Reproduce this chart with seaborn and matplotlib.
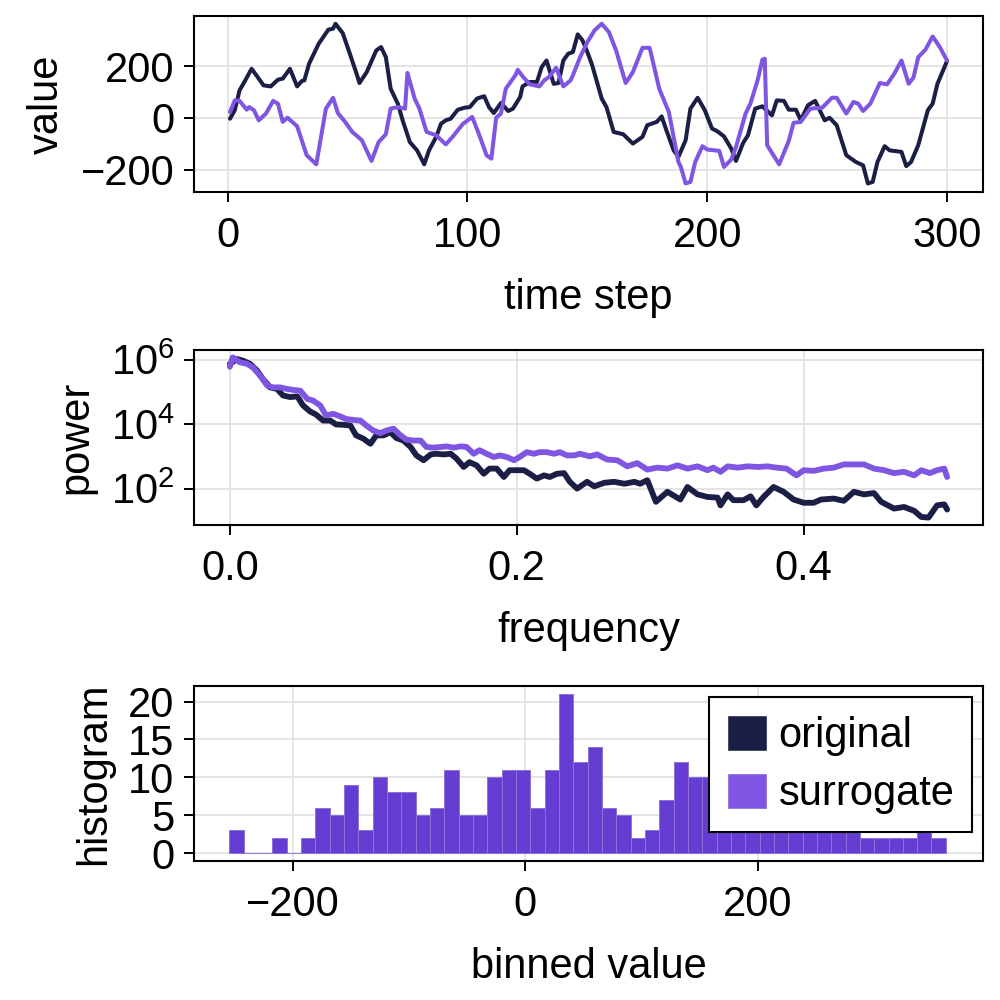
import numpy as np
import pandas as pd
import matplotlib
matplotlib.use('Agg')
import matplotlib.pyplot as plt
import seaborn as sns
from matplotlib.patches import Patch
from matplotlib.ticker import FixedLocator, NullLocator, FuncFormatter

navy = '#1b1f45'
purple = '#7f56e1'
bar_purple = '#7443ec'

# time series
orig_t = [1, 3, 5, 7, 10, 12, 15, 18, 21, 23, 26, 29, 31, 32, 34, 38, 42, 44, 45, 48,
          51, 54, 55, 58, 62, 64, 66, 68, 71, 73, 76, 79, 82, 84, 87, 89, 91, 93, 96, 99,
          101, 104, 107, 109, 111, 114, 117, 119, 122, 123, 126, 129, 131, 133, 136, 138, 140, 142, 144, 146,
          148, 150, 152, 156, 158, 161, 165, 169, 173, 175, 179, 181, 183, 186, 188, 191, 193, 196, 199, 202,
          204, 207, 210, 212, 215, 217, 220, 223, 227, 229, 232, 234, 237, 239, 242, 245, 249, 251, 254, 258,
          262, 265, 267, 269, 271, 274, 276, 281, 283, 285, 288, 292, 294, 296, 300]
orig_v = [-3, 30, 107, 139, 190, 165, 126, 122, 148, 152, 190, 122, 143, 145, 210, 287, 341, 345, 364, 328,
          248, 165, 135, 177, 261, 274, 235, 113, 55, -9, -93, -125, -179, -125, -73, -22, -9, -3, 32, 40,
          42, 75, 84, 42, 19, 58, 27, 36, 81, 122, 139, 139, 197, 222, 132, 135, 222, 248, 255, 323,
          300, 255, 205, 75, 42, -54, -63, -99, -73, -28, -15, 6, -48, -125, -150, -86, 36, 78, 30, -41,
          -50, -71, -118, -166, -96, -67, 36, 45, 10, 68, 66, 32, 32, -9, 49, 66, -9, 1, -28, -144,
          -170, -183, -253, -247, -170, -109, -125, -131, -186, -170, -105, 30, 55, 132, 220]

surr_t = [1, 3, 5, 8, 9, 11, 13, 16, 19, 21, 23, 25, 29, 33, 37, 41, 44, 46, 49, 52,
          56, 60, 63, 66, 68, 71, 74, 75, 78, 80, 83, 87, 91, 94, 98, 102, 105, 108, 110, 112,
          114, 116, 120, 121, 123, 126, 130, 132, 134, 137, 140, 143, 144, 147, 150, 153, 156, 159, 162, 166,
          169, 173, 176, 180, 184, 188, 189, 191, 193, 195, 198, 200, 205, 207, 210, 212, 216, 218, 221, 223,
          224, 225, 227, 230, 234, 236, 239, 243, 248, 252, 254, 258, 261, 263, 265, 268, 272, 275, 278, 281,
          284, 286, 288, 291, 294, 297, 300]
surr_v = [23, 68, 66, 32, 42, 30, -9, 17, 66, 55, -15, 1, -32, -144, -179, 36, 78, 19, -15, -54,
          -86, -166, -93, -63, 36, 42, 36, 174, 75, 36, -54, -67, -102, -71, -24, 4, -67, -144, -157, 1,
          17, 113, 165, 186, 161, 130, 122, 145, 158, 194, 122, 145, 165, 235, 293, 338, 364, 332, 261, 135,
          177, 271, 271, 113, 23, -170, -189, -253, -247, -170, -109, -122, -127, -189, -161, -112, 17, 55, 145, 225,
          229, -105, -135, -179, -89, -19, -15, 36, 40, 78, 78, 17, 62, 55, 27, 55, 135, 130, 171, 222,
          132, 156, 235, 264, 315, 274, 222]

# power spectra, log10(power)
spec_f_orig = [0.000, 0.005, 0.009, 0.014, 0.019, 0.023, 0.028, 0.033, 0.037, 0.042, 0.047, 0.051, 0.056, 0.060,
               0.065, 0.070, 0.074, 0.079, 0.084, 0.088, 0.093, 0.098, 0.102, 0.107, 0.112, 0.116, 0.121, 0.126,
               0.130, 0.135, 0.140, 0.144, 0.149, 0.154, 0.158, 0.163, 0.167, 0.172, 0.177, 0.181, 0.186, 0.191,
               0.195, 0.200, 0.205, 0.209, 0.214, 0.219, 0.223, 0.228, 0.233, 0.237, 0.242, 0.249, 0.254, 0.261,
               0.268, 0.275, 0.282, 0.286, 0.291, 0.297, 0.305, 0.314, 0.319, 0.326, 0.333, 0.340, 0.342, 0.347,
               0.351, 0.358, 0.363, 0.367, 0.372, 0.379, 0.386, 0.393, 0.400, 0.407, 0.412, 0.421, 0.428, 0.435,
               0.442, 0.449, 0.454, 0.463, 0.470, 0.477, 0.482, 0.487, 0.493, 0.498, 0.500]
spec_logp_orig = [5.87, 6.02, 5.97, 5.87, 5.66, 5.40, 5.14, 5.09, 4.89, 4.84, 4.86, 4.58, 4.39, 4.30,
                  4.11, 4.11, 3.99, 3.98, 3.96, 3.65, 3.55, 3.39, 3.65, 3.65, 3.75, 3.57, 3.49, 3.29,
                  3.03, 2.88, 3.06, 3.08, 3.06, 3.08, 2.93, 2.67, 2.82, 2.72, 2.46, 2.62, 2.62, 2.36,
                  2.57, 2.57, 2.57, 2.46, 2.31, 2.41, 2.36, 2.46, 2.48, 2.21, 2.00, 2.21, 2.07, 2.18,
                  2.21, 2.15, 2.21, 2.15, 2.26, 1.59, 1.90, 1.66, 2.05, 1.82, 1.74, 1.72, 1.48, 1.82,
                  1.64, 1.64, 1.76, 1.48, 1.74, 2.05, 1.90, 1.66, 1.56, 1.56, 1.66, 1.69, 1.62, 1.90,
                  1.82, 1.86, 1.59, 1.38, 1.43, 1.31, 1.12, 1.10, 1.48, 1.51, 1.35]

spec_f_surr = [0.000, 0.002, 0.007, 0.012, 0.016, 0.021, 0.026, 0.030, 0.035, 0.040, 0.044, 0.049, 0.054, 0.058,
               0.063, 0.067, 0.072, 0.077, 0.081, 0.086, 0.091, 0.095, 0.100, 0.105, 0.109, 0.114, 0.119, 0.123,
               0.128, 0.133, 0.137, 0.142, 0.147, 0.151, 0.156, 0.161, 0.165, 0.170, 0.174, 0.179, 0.184, 0.188,
               0.193, 0.198, 0.202, 0.207, 0.212, 0.216, 0.221, 0.226, 0.230, 0.235, 0.240, 0.244, 0.251, 0.256,
               0.263, 0.270, 0.277, 0.284, 0.291, 0.298, 0.305, 0.312, 0.319, 0.326, 0.333, 0.337, 0.342, 0.347,
               0.354, 0.361, 0.368, 0.375, 0.381, 0.388, 0.395, 0.400, 0.407, 0.414, 0.421, 0.428, 0.435, 0.442,
               0.449, 0.456, 0.463, 0.470, 0.477, 0.482, 0.488, 0.493, 0.498, 0.500]
spec_logp_surr = [5.78, 6.07, 5.92, 5.87, 5.76, 5.51, 5.20, 5.14, 5.14, 5.09, 5.06, 5.04, 4.78, 4.73,
                  4.58, 4.27, 4.32, 4.24, 4.16, 4.13, 4.11, 3.96, 3.80, 3.72, 3.80, 3.86, 3.65, 3.52,
                  3.49, 3.49, 3.29, 3.27, 3.29, 3.31, 3.27, 3.31, 3.29, 3.08, 3.19, 3.08, 2.98, 3.03,
                  2.98, 2.88, 2.98, 3.13, 3.08, 3.13, 3.13, 3.08, 3.13, 3.03, 3.03, 3.08, 3.00, 3.06,
                  2.90, 2.88, 2.69, 2.79, 2.59, 2.65, 2.62, 2.72, 2.62, 2.69, 2.57, 2.65, 2.52, 2.69,
                  2.65, 2.69, 2.67, 2.69, 2.65, 2.62, 2.41, 2.57, 2.55, 2.62, 2.65, 2.75, 2.75, 2.75,
                  2.62, 2.57, 2.48, 2.52, 2.41, 2.57, 2.48, 2.57, 2.62, 2.36]

# histogram counts, 50 bins
hist_counts = [3, 0, 0, 2, 0, 2, 6, 5, 9, 3, 10, 8, 8, 5, 6, 11, 5, 5, 10, 11,
               11, 6, 11, 21, 12, 14, 6, 5, 2, 3, 7, 12, 10, 10, 9, 7, 6, 5, 4, 4,
               4, 3, 3, 3, 2, 2, 2, 2, 3, 2]
bin_lo, bin_hi = -254.5, 362.0

sns.set_theme(style='whitegrid')
plt.rcParams['font.family'] = ['Liberation Sans', 'DejaVu Sans']
plt.rcParams.update({
    'font.size': 30,
    'axes.labelsize': 30,
    'xtick.labelsize': 30,
    'ytick.labelsize': 30,
    'axes.edgecolor': 'black',
    'axes.linewidth': 1.5,
    'axes.labelcolor': 'black',
    'text.color': 'black',
    'xtick.color': 'black',
    'ytick.color': 'black',
    'xtick.bottom': True,
    'ytick.left': True,
    'xtick.major.size': 7,
    'ytick.major.size': 7,
    'xtick.major.width': 1.4,
    'ytick.major.width': 1.4,
    'xtick.major.pad': 10,
    'ytick.major.pad': 7,
    'grid.color': '#e2e2e2',
    'grid.linewidth': 1.3,
    'mathtext.default': 'regular',
})

fig = plt.figure(figsize=(10, 10), dpi=100)
ax1 = fig.add_axes([0.194, 0.808, 0.789, 0.176])
ax2 = fig.add_axes([0.194, 0.475, 0.789, 0.175])
ax3 = fig.add_axes([0.194, 0.139, 0.789, 0.175])

# time series
sns.lineplot(x=orig_t, y=orig_v, ax=ax1, color=navy, linewidth=2.9)
sns.lineplot(x=surr_t, y=surr_v, ax=ax1, color=purple, linewidth=2.9)
ax1.set_xlim(-14, 315)
ax1.set_ylim(-286, 394)
ax1.set_xticks([0, 100, 200, 300])
ax1.set_yticks([-200, 0, 200])
ax1.set_xlabel('time step', labelpad=16)
ax1.set_ylabel('value', labelpad=10)

# spectrum
sns.lineplot(x=spec_f_orig, y=10 ** np.array(spec_logp_orig), ax=ax2, color=navy, linewidth=4.2)
sns.lineplot(x=spec_f_surr, y=10 ** np.array(spec_logp_surr), ax=ax2, color=purple, linewidth=4.2)
ax2.set_yscale('log')
ax2.set_xlim(-0.025, 0.525)
ax2.set_ylim(10 ** 0.87, 10 ** 6.3)
ax2.set_xticks([0.0, 0.2, 0.4])
ax2.xaxis.set_major_formatter(FuncFormatter(lambda v, p: '%.1f' % v))
ax2.yaxis.set_major_locator(FixedLocator([1e2, 1e4, 1e6]))
ax2.yaxis.set_minor_locator(NullLocator())
ax2.yaxis.set_major_formatter(FuncFormatter(lambda v, p: r'$10^{%d}$' % round(np.log10(v))))
ax2.set_xlabel('frequency', labelpad=16)
ax2.set_ylabel('power', labelpad=10)

# histogram
edges = np.linspace(bin_lo, bin_hi, len(hist_counts) + 1)
hist_df = pd.DataFrame({'value': (edges[:-1] + edges[1:]) / 2, 'count': hist_counts})
sns.histplot(data=hist_df, x='value', weights='count', bins=list(edges), ax=ax3,
             color=navy, alpha=1, edgecolor='#8f7ad8', linewidth=0.5)
sns.histplot(data=hist_df, x='value', weights='count', bins=list(edges), ax=ax3,
             color=bar_purple, alpha=0.85, edgecolor='#8f7ad8', linewidth=0.5)
ax3.set_xlim(-285, 394)
ax3.set_ylim(-1.05, 22.05)
ax3.set_xticks([-200, 0, 200])
ax3.set_yticks([0, 5, 10, 15, 20])
ax3.set_xlabel('binned value', labelpad=16)
ax3.set_ylabel('histogram', labelpad=10)
leg = ax3.legend(handles=[Patch(facecolor=navy), Patch(facecolor=purple)],
                 labels=['original', 'surrogate'], loc='upper right',
                 bbox_to_anchor=(0.986, 0.937), borderaxespad=0, frameon=True,
                 fancybox=False, framealpha=1, edgecolor='black', fontsize=30,
                 handlelength=0.96, handleheight=0.96, handletextpad=0.28,
                 borderpad=0.42, labelspacing=0.4)
leg.get_frame().set_linewidth(1.5)

for ax in (ax1, ax2, ax3):
    ax.grid(True)
    for s in ax.spines.values():
        s.set_visible(True)
        s.set_color('black')

fig.savefig('out.png', dpi=100)
